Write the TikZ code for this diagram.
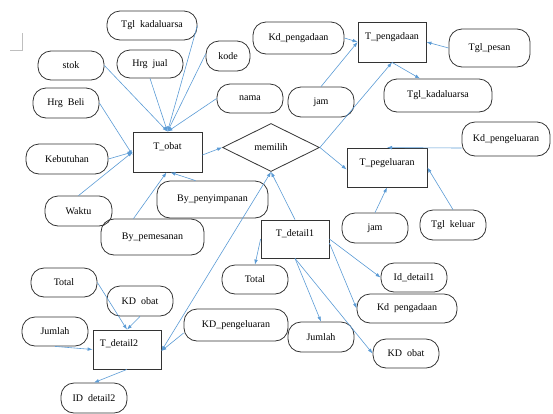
\documentclass[tikz,border=0pt]{standalone}
\usepackage{fontspec}
\setmainfont{Liberation Serif}
\usetikzlibrary{arrows.meta,shapes.geometric,calc}
\definecolor{cblue}{HTML}{5B9BD5}
\definecolor{outl}{HTML}{333333}
\tikzset{
  attr/.style 2 args={draw=outl, line width=0.8pt, rounded corners=13pt, minimum width=#1, minimum height=#2, inner sep=1pt},
  ent/.style 2 args={draw=outl, line width=0.8pt, minimum width=#1, minimum height=#2, inner sep=0pt},
  rel/.style={draw=outl, line width=0.8pt, diamond, aspect=2.02, minimum width=97pt, minimum height=48pt, inner sep=0pt},
  conn/.style={draw=cblue, line width=0.6pt, ->},
  >={Latex[length=5pt,width=3.6pt]},
  every node/.style={font=\fontsize{10}{12}\selectfont}
}
\begin{document}
\begin{tikzpicture}[x=1pt,y=-1pt]
\useasboundingbox (0,0) rectangle (553,413);
% page corner mark
\draw[black!25, line width=0.6pt] (10,50) -- (22,50) -- (22,33);

% attributes and entities
\node[attr={90pt}{29pt}] (tglkad) at (152,25.5) {Tgl~~kadaluarsa};
\node[attr={66pt}{29pt}] (stok) at (71,65.5) {stok};
\node[attr={66pt}{28pt}] (hrgjual) at (150,64) {Hrg~~jual};
\node[attr={44pt}{30pt}] (kode) at (228,56) {kode};
\node[attr={66pt}{30pt}] (hrgbeli) at (66,103) {Hrg~~Beli};
\node[attr={66pt}{29pt}] (nama) at (250,98.5) {nama};
\node[attr={91pt}{32pt}] (kdpengad) at (298.5,38) {Kd\_pengadaan};
\node[ent={68pt}{40pt}, label={[yshift=5pt]center:T\_pengadaan}] (tpeng) at (392,42) {};
\node[attr={81pt}{38pt}] (tglpesan) at (489.5,48) {Tgl\_pesan};
\node[attr={66pt}{30pt}] (jamA) at (321,102) {jam};
\node[attr={108pt}{33pt}] (tglkadB) at (438,95.5) {Tgl\_kadaluarsa};
\node[attr={88pt}{34pt}] (kdpengel) at (506,139) {Kd\_pengeluaran};
\node[ent={80pt}{39pt}, label={[yshift=4.5pt]center:T\_pegeluaran}] (tpeg) at (387,167.5) {};
\node[rel] (memilih) at (271,147.5) {memilih};
\node[ent={69pt}{40pt}, label={[yshift=5pt]center:T\_obat}] (tobat) at (167.5,152) {};
\node[attr={82pt}{30pt}] (kebut) at (67,159) {Kebutuhan};
\node[attr={111pt}{37pt}] (bypeny) at (212.5,199.5) {By\_penyimpanan};
\node[attr={67pt}{30pt}] (waktu) at (78.5,211) {Waktu};
\node[attr={103pt}{36pt}] (bypem) at (152.5,237) {By\_pemesanan};
\node[attr={66pt}{30pt}] (jamB) at (375,228) {jam};
\node[attr={66pt}{30pt}] (tglkel) at (453,225) {Tgl~~keluar};
\node[ent={68pt}{38pt}, label={[yshift=5pt]center:T\_detail1}] (tdetA) at (295,239) {};
\node[attr={66pt}{29pt}] (totalB) at (255,279.5) {Total};
\node[attr={66pt}{29pt}] (iddetA) at (414,277.5) {Id\_detail1};
\node[attr={100pt}{29pt}] (kdpengadB) at (407,308.5) {Kd~~pengadaan};
\node[attr={104pt}{32pt}] (kdpengelB) at (236,325) {KD\_pengeluaran};
\node[attr={66pt}{30pt}] (jumlahB) at (321,337) {Jumlah};
\node[attr={66pt}{29pt}] (kdobatB) at (406,353.5) {KD~~obat};
\node[attr={66pt}{29pt}] (totalA) at (64,282.5) {Total};
\node[attr={66pt}{30pt}] (kdobatA) at (140,301) {KD~~obat};
\node[attr={66pt}{29pt}] (jumlahA) at (55,331.5) {Jumlah};
\node[ent={68pt}{39pt}, label={[xshift=-8pt,yshift=5.5pt]center:T\_detail2}] (tdetB) at (127,349.5) {};
\node[attr={66pt}{30pt}] (iddetB) at (94,398) {ID~~detail2};

% connectors to T_obat
\draw[conn] (tglkad.east) -- (tobat.north);
\draw[conn] (stok.east) -- (tobat.north);
\draw[conn] (hrgjual.south) -- (tobat.north);
\draw[conn] ([yshift=2pt]kode.west) -- (tobat.north);
\draw[conn] (nama.west) -- (tobat.north);
\draw[conn] (hrgbeli.east) -- ([yshift=-3pt]tobat.west);
\draw[conn] (kebut.east) -- (tobat.west);
\draw[conn] (waktu.north) -- (tobat.west);
\draw[conn] ([xshift=-17pt]bypeny.north) -- ([xshift=3pt]tobat.south);
\draw[conn] ([xshift=-19pt]bypem.north) -- ([xshift=-1pt]tobat.south);
\draw[conn] ([yshift=-3pt]tobat.east) -- (memilih.west);

% memilih
\draw[conn] (memilih.east) -- (tpeng.south);
\draw[conn] (memilih.east) -- ([yshift=-2pt]tpeg.west);
\draw[conn] (tdetA.north) -- (memilih.south);
\draw[draw=cblue, line width=0.6pt, <->] (memilih.south) -- ([yshift=-1.5pt]tdetB.east);

% T_pengadaan
\draw[conn] (jamA.north) -- (tpeng.west);
\draw[conn] (kdpengad.east) -- (tpeng.west);
\draw[conn] (tglpesan.west) -- (tpeng.east);
\draw[conn] (tpeng.south) -- ([xshift=-18pt]tglkadB.north);

% T_pegeluaran
\draw[conn] ([yshift=-9pt]kdpengel.west) -- (tpeg.north);
\draw[conn] (jamB.north) -- (tpeg.south);
\draw[conn] (tglkel.north) -- (tpeg.east);

% T_detail1
\draw[conn] (tdetA.west) -- (totalB.north);
\draw[conn] (tdetA.east) -- (iddetA.west);
\draw[conn] ([yshift=-4pt]tdetA.east) -- (kdpengadB.west);
\draw[conn] (tdetA.south) -- (jumlahB.north);
\draw[conn] (tdetA.south) -- (kdobatB.west);

% T_detail2
\draw[conn] (totalA.east) -- (tdetB.north);
\draw[conn] (kdobatA.south) -- (tdetB.north);
\draw[conn] (jumlahA.south) -- (tdetB.west);
\draw[conn] ([yshift=-8pt]kdpengelB.west) -- ([yshift=-1.5pt]tdetB.east);
\draw[conn] (tdetB.south) -- (iddetB.north);
\end{tikzpicture}
\end{document}
